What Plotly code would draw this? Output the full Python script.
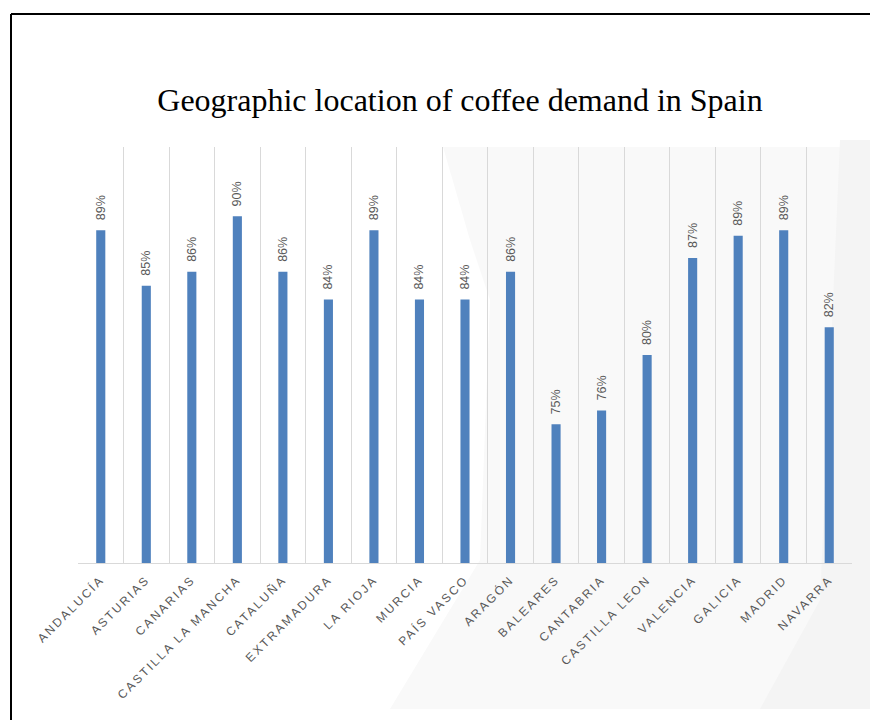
import plotly.graph_objects as go

# Share of coffee demand by region (%)
regions = [
    "ANDALUCÍA", "ASTURIAS", "CANARIAS", "CASTILLA LA MANCHA", "CATALUÑA",
    "EXTRAMADURA", "LA RIOJA", "MURCIA", "PAÍS VASCO", "ARAGÓN", "BALEARES",
    "CANTABRIA", "CASTILLA LEON", "VALENCIA", "GALICIA", "MADRID", "NAVARRA",
]
demand_pct = [89, 85, 86, 90, 86, 84, 89, 84, 84, 86, 75, 76, 80, 87, 88.6, 89, 82]

W, H = 870, 720
L, R, T, B = 78, 18, 147, 157
PW, PH = W - L - R, H - T - B


def px(x):
    return (x - L) / PW


def py(y):
    return (H - B - y) / PH


fig = go.Figure(
    go.Bar(
        x=regions,
        y=demand_pct,
        marker=dict(color="#4f81bd", line=dict(width=0)),
        texttemplate="\u00a0\u00a0%{y:.0f}%",
        textposition="outside",
        textangle=-90,
        constraintext="none",
        textfont=dict(family="Liberation Sans", size=12.5, color="#595959"),
        cliponaxis=False,
        hoverinfo="skip",
    )
)

# faint grey backdrop on the right-hand side of the page
haze = [(443, 147), (470, 240), (490, 300), (480, 560), (390, 709),
        (870, 709), (870, 147)]
path = "M " + " L ".join(f"{px(a):.4f},{py(b):.4f}" for a, b in haze) + " Z"
strip = [(840, 140), (870, 140), (870, 709), (760, 709), (820, 600)]
path2 = "M " + " L ".join(f"{px(a):.4f},{py(b):.4f}" for a, b in strip) + " Z"

shapes = [
    dict(type="path", xref="paper", yref="paper", path=path,
         fillcolor="#f9f9f9", line=dict(width=0), layer="below"),
    dict(type="path", xref="paper", yref="paper", path=path2,
         fillcolor="#f4f4f4", line=dict(width=0), layer="below"),
    # page frame
    dict(type="line", xref="paper", yref="paper",
         x0=px(11), x1=px(872), y0=py(14), y1=py(14),
         line=dict(color="black", width=2)),
    dict(type="line", xref="paper", yref="paper",
         x0=px(11), x1=px(11), y0=py(14), y1=py(722),
         line=dict(color="black", width=2)),
]

fig.update_layout(
    width=W,
    height=H,
    margin=dict(l=L, r=R, t=T, b=B),
    paper_bgcolor="white",
    plot_bgcolor="rgba(0,0,0,0)",
    bargap=0.8,
    showlegend=False,
    shapes=shapes,
    title=dict(
        text="Geographic location of coffee demand in Spain",
        font=dict(family="Liberation Serif", size=32, color="black"),
        xref="container", x=460 / W, xanchor="center",
        yref="container", y=1 - 100 / H, yanchor="middle",
    ),
    xaxis=dict(
        type="category",
        tickson="boundaries",
        showgrid=True,
        gridcolor="#d9d9d9",
        gridwidth=1,
        showline=True,
        linecolor="#d9d9d9",
        linewidth=1,
        ticks="",
        tickangle=-45,
        ticklabelstandoff=4,
        tickfont=dict(family="Liberation Sans", size=12, color="#595959"),
        fixedrange=True,
    ),
    yaxis=dict(
        range=[65, 95],
        showgrid=False,
        showticklabels=False,
        zeroline=False,
        showline=False,
        fixedrange=True,
    ),
)

fig.write_html(
    "out.html",
    config={"displayModeBar": False},
    post_script="document.querySelectorAll('.xtick text').forEach(function(t){t.style.letterSpacing='2.2px';});",
)
